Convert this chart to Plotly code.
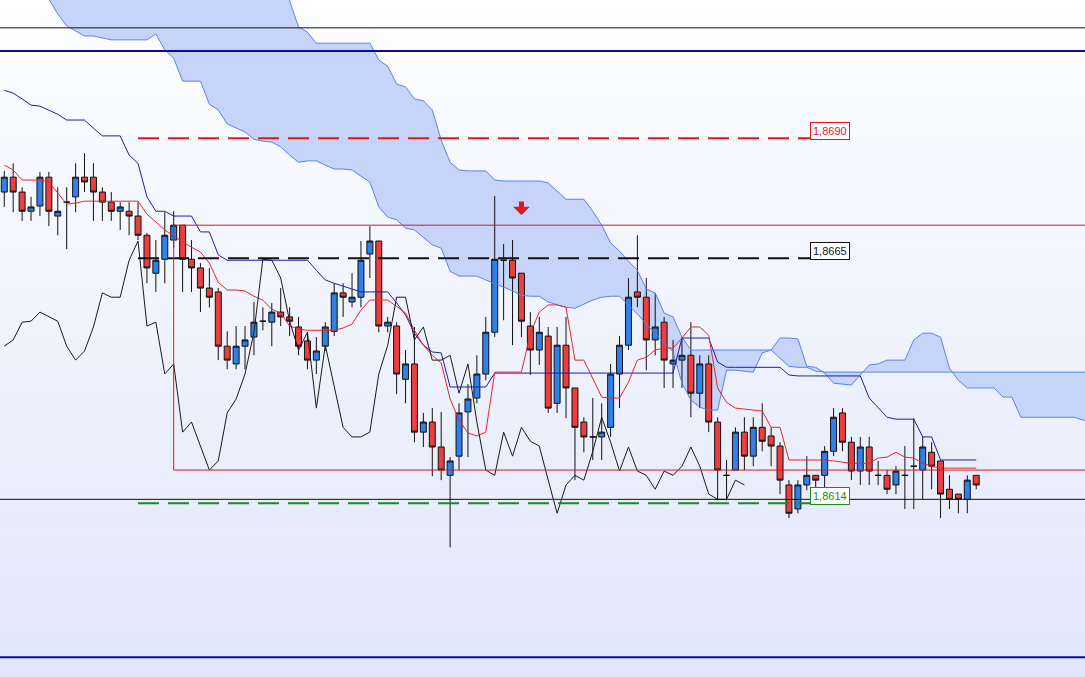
import pandas as pd
import plotly.graph_objects as go

# H1 candles with Ichimoku, prices (one value per bar)
open_ = [1.86788, 1.86819, 1.86788, 1.86748, 1.86759, 1.86819, 1.86738, 1.86767, 1.86778, 1.86819,
         1.86819, 1.86788, 1.86767, 1.86748, 1.86748, 1.86738, 1.86698, 1.86619, 1.86648, 1.86688,
         1.86719, 1.86648, 1.86630, 1.86588, 1.86580, 1.86467, 1.86430, 1.86467, 1.86486, 1.86519,
         1.86517, 1.86538, 1.86528, 1.86507, 1.86478, 1.86438, 1.86467, 1.86498, 1.86578, 1.86559,
         1.86569, 1.86659, 1.86686, 1.86509, 1.86509, 1.86398, 1.86430, 1.86288, 1.86309, 1.86257,
         1.86198, 1.86238, 1.86330, 1.86359, 1.86409, 1.86496, 1.86646, 1.86646, 1.86619, 1.86509,
         1.86459, 1.86488, 1.86348, 1.86469, 1.86380, 1.86309, 1.86278, 1.86278, 1.86298, 1.86409,
         1.86469, 1.86580, 1.86569, 1.86480, 1.86517, 1.86430, 1.86438, 1.86448, 1.86369, 1.86430,
         1.86309, 1.86198, 1.86209, 1.86288, 1.86238, 1.86298, 1.86280, 1.86259, 1.86178, 1.86128,
         1.86178, 1.86198, 1.86198, 1.86248, 1.86328, 1.86267, 1.86207, 1.86257, 1.86198, 1.86198,
         1.86178, 1.86198, 1.86217, 1.86209, 1.86246, 1.86228, 1.86169, 1.86159, 1.86148, 1.86198]
high = [1.86832, 1.86848, 1.86798, 1.86778, 1.86830, 1.86830, 1.86798, 1.86798, 1.86848, 1.86869,
        1.86848, 1.86798, 1.86788, 1.86767, 1.86767, 1.86767, 1.86703, 1.86688, 1.86746, 1.86748,
        1.86719, 1.86688, 1.86640, 1.86630, 1.86588, 1.86498, 1.86509, 1.86509, 1.86559, 1.86548,
        1.86557, 1.86588, 1.86548, 1.86528, 1.86496, 1.86486, 1.86517, 1.86598, 1.86598, 1.86619,
        1.86686, 1.86717, 1.86686, 1.86528, 1.86517, 1.86459, 1.86507, 1.86328, 1.86338, 1.86330,
        1.86236, 1.86348, 1.86388, 1.86448, 1.86528, 1.86780, 1.86680, 1.86688, 1.86619, 1.86538,
        1.86528, 1.86507, 1.86507, 1.86528, 1.86380, 1.86319, 1.86359, 1.86348, 1.86430, 1.86488,
        1.86609, 1.86698, 1.86609, 1.86578, 1.86528, 1.86480, 1.86486, 1.86517, 1.86448, 1.86448,
        1.86319, 1.86230, 1.86298, 1.86319, 1.86319, 1.86348, 1.86298, 1.86267, 1.86188, 1.86188,
        1.86238, 1.86198, 1.86259, 1.86338, 1.86338, 1.86278, 1.86278, 1.86278, 1.86228, 1.86209,
        1.86217, 1.86259, 1.86317, 1.86278, 1.86267, 1.86228, 1.86198, 1.86159, 1.86198, 1.86198]
low = [1.86757, 1.86746, 1.86728, 1.86728, 1.86738, 1.86717, 1.86698, 1.86669, 1.86746, 1.86788,
       1.86728, 1.86728, 1.86728, 1.86709, 1.86698, 1.86688, 1.86598, 1.86580, 1.86598, 1.86671,
       1.86580, 1.86580, 1.86538, 1.86548, 1.86438, 1.86419, 1.86419, 1.86419, 1.86448, 1.86500,
       1.86467, 1.86509, 1.86488, 1.86448, 1.86419, 1.86409, 1.86457, 1.86488, 1.86528, 1.86548,
       1.86548, 1.86609, 1.86496, 1.86496, 1.86367, 1.86348, 1.86267, 1.86257, 1.86196, 1.86188,
       1.86048, 1.86209, 1.86236, 1.86348, 1.86396, 1.86486, 1.86521, 1.86469, 1.86486, 1.86407,
       1.86428, 1.86328, 1.86328, 1.86317, 1.86188, 1.86246, 1.86230, 1.86230, 1.86278, 1.86338,
       1.86459, 1.86548, 1.86417, 1.86448, 1.86380, 1.86380, 1.86380, 1.86319, 1.86338, 1.86288,
       1.86146, 1.86146, 1.86209, 1.86209, 1.86217, 1.86248, 1.86217, 1.86159, 1.86109, 1.86119,
       1.86167, 1.86173, 1.86173, 1.86238, 1.86248, 1.86188, 1.86178, 1.86178, 1.86178, 1.86159,
       1.86159, 1.86128, 1.86128, 1.86148, 1.86169, 1.86109, 1.86128, 1.86119, 1.86119, 1.86169]
close = [1.86819, 1.86788, 1.86748, 1.86757, 1.86819, 1.86748, 1.86748, 1.86767, 1.86819, 1.86809,
         1.86788, 1.86767, 1.86748, 1.86757, 1.86738, 1.86698, 1.86630, 1.86646, 1.86698, 1.86719,
         1.86648, 1.86630, 1.86588, 1.86569, 1.86467, 1.86438, 1.86467, 1.86480, 1.86517, 1.86519,
         1.86538, 1.86528, 1.86519, 1.86467, 1.86438, 1.86457, 1.86507, 1.86578, 1.86569, 1.86569,
         1.86646, 1.86686, 1.86509, 1.86517, 1.86409, 1.86430, 1.86288, 1.86309, 1.86257, 1.86209,
         1.86228, 1.86328, 1.86357, 1.86409, 1.86496, 1.86648, 1.86646, 1.86609, 1.86519, 1.86459,
         1.86496, 1.86338, 1.86469, 1.86380, 1.86298, 1.86278, 1.86278, 1.86288, 1.86409, 1.86469,
         1.86569, 1.86569, 1.86480, 1.86507, 1.86438, 1.86438, 1.86448, 1.86369, 1.86430, 1.86309,
         1.86209, 1.86198, 1.86288, 1.86238, 1.86298, 1.86269, 1.86259, 1.86188, 1.86119, 1.86178,
         1.86198, 1.86188, 1.86248, 1.86319, 1.86267, 1.86207, 1.86257, 1.86207, 1.86198, 1.86169,
         1.86207, 1.86198, 1.86217, 1.86257, 1.86217, 1.86159, 1.86148, 1.86148, 1.86188, 1.86178]

tenkan = [1.86844, 1.86834, 1.86813, 1.86813, 1.86813, 1.86809, 1.86786, 1.86763, 1.86765, 1.86769,
          1.86769, 1.86769, 1.86769, 1.86769, 1.86769, 1.86769, 1.86742, 1.86725, 1.86709, 1.86696,
          1.86684, 1.86673, 1.86663, 1.86640, 1.86600, 1.86584, 1.86584, 1.86582, 1.86571, 1.86563,
          1.86544, 1.86536, 1.86509, 1.86503, 1.86500, 1.86500, 1.86500, 1.86500, 1.86505, 1.86513,
          1.86542, 1.86563, 1.86563, 1.86563, 1.86550, 1.86536, 1.86500, 1.86469, 1.86448, 1.86432,
          1.86357, 1.86313, 1.86286, 1.86280, 1.86288, 1.86413, 1.86413, 1.86413, 1.86413, 1.86494,
          1.86538, 1.86553, 1.86553, 1.86548, 1.86438, 1.86438, 1.86400, 1.86361, 1.86359, 1.86359,
          1.86392, 1.86438, 1.86444, 1.86459, 1.86463, 1.86463, 1.86484, 1.86507, 1.86507, 1.86490,
          1.86380, 1.86350, 1.86338, 1.86336, 1.86334, 1.86332, 1.86298, 1.86298, 1.86230, 1.86230,
          1.86230, 1.86230, 1.86230, 1.86228, 1.86225, 1.86223, 1.86223, 1.86223, 1.86234, 1.86236,
          1.86246, 1.86236, 1.86234, 1.86223, 1.86217, 1.86213, 1.86213, 1.86213, 1.86213, 1.86213]
kijun = ([1.87000, 1.86994, 1.86982, 1.86969, 1.86967, 1.86959, 1.86950, 1.86938, 1.86938, 1.86938,
          1.86921, 1.86905, 1.86905, 1.86905, 1.86865, 1.86848, 1.86778, 1.86748, 1.86748, 1.86738,
          1.86738, 1.86738, 1.86705, 1.86705, 1.86657]
         + [1.86646] * 10
         + [1.86625, 1.86605, 1.86598, 1.86592, 1.86586, 1.86580, 1.86580, 1.86580, 1.86580,
            1.86557, 1.86532, 1.86494, 1.86469, 1.86455, 1.86453]
         + [1.86382] * 5 + [1.86411] * 21 + [1.86484] * 4
         + [1.86434] + [1.86423] * 7 + [1.86407] + [1.86405] * 8
         + [1.86359, 1.86338, 1.86319, 1.86315, 1.86315, 1.86315, 1.86278, 1.86278]
         + [1.86230] * 5)

# senkou spans, already shifted 26 bars ahead (run past the last candle)
span_a = [1.87313, 1.87282, 1.87251, 1.87226, 1.87205, 1.87190, 1.87159, 1.87134, 1.87123, 1.87113,
          1.87113, 1.87109, 1.87105, 1.87105, 1.87105, 1.87105, 1.87105, 1.87117, 1.87084, 1.87067,
          1.87019, 1.87019, 1.87019, 1.86971, 1.86959, 1.86930, 1.86921, 1.86913, 1.86898, 1.86894,
          1.86892, 1.86882, 1.86865, 1.86850, 1.86853, 1.86853, 1.86844, 1.86836, 1.86836, 1.86834,
          1.86821, 1.86809, 1.86757, 1.86736, 1.86730, 1.86713, 1.86709, 1.86694, 1.86678, 1.86671,
          1.86623, 1.86613, 1.86613, 1.86613, 1.86605, 1.86598, 1.86590, 1.86582, 1.86573, 1.86571,
          1.86571, 1.86559, 1.86553, 1.86548, 1.86546, 1.86555, 1.86563, 1.86569, 1.86571, 1.86571,
          1.86553, 1.86534, 1.86513, 1.86494, 1.86473, 1.86455, 1.86390, 1.86355, 1.86340, 1.86334,
          1.86334, 1.86417, 1.86417, 1.86415, 1.86413, 1.86453, 1.86459, 1.86484, 1.86484, 1.86482,
          1.86425, 1.86423, 1.86411, 1.86390, 1.86388, 1.86386, 1.86407, 1.86428, 1.86430, 1.86438,
          1.86438, 1.86438, 1.86480, 1.86494, 1.86494, 1.86486, 1.86421, 1.86396, 1.86380, 1.86380,
          1.86380, 1.86380, 1.86361, 1.86361, 1.86319, 1.86319, 1.86319, 1.86319, 1.86319, 1.86319,
          1.86319, 1.86313, 1.86311]
span_b = ([1.87355] * 31
          + [1.87240, 1.87184, 1.87132, 1.87121] + [1.87098] * 7
          + [1.87063, 1.87050, 1.87013, 1.87007, 1.86982, 1.86978, 1.86959, 1.86896,
             1.86850, 1.86834, 1.86832, 1.86832, 1.86832, 1.86813]
          + [1.86811] * 5
          + [1.86807, 1.86790, 1.86773, 1.86773, 1.86773, 1.86748, 1.86719, 1.86682, 1.86665,
             1.86644, 1.86625, 1.86586, 1.86578, 1.86536, 1.86528, 1.86486]
          + [1.86459] * 10
          + [1.86442, 1.86425, 1.86423, 1.86423, 1.86415]
          + [1.86413] * 31)

# trader's levels
levels = [1.8690, 1.8665, 1.8614]
level_labels = ["1,8690", "1,8665", "1,8614"]
level_colors = ["#e3161b", "#111111", "#1d8a22"]
black_rules = [1.87130, 1.86148]
blue_rules = [1.87082, 1.85819]
range_box = (1.86719, 1.86209)   # top / bottom of the red range
range_box_start = 19
sell_bar, sell_price = 58, 1.86740

bars = pd.DataFrame({"open": open_, "high": high, "low": low, "close": close})
bars["tenkan"] = tenkan
bars["kijun"] = kijun
# chikou span = close plotted 26 bars back
chikou = bars["close"].shift(-26)
cloud = pd.DataFrame({"a": span_a, "b": span_b})

x_range = [-0.48, 121.2]
y_range = [1.85778, 1.87188]

fig = go.Figure()

# cloud fill sits on the base axes, everything else on an overlay so candles cover it
fig.add_trace(go.Scatter(x=cloud.index, y=cloud["b"], mode="lines", line=dict(width=0)))
fig.add_trace(go.Scatter(x=cloud.index, y=cloud["a"], mode="lines", fill="tonexty",
                         fillcolor="rgb(198,212,250)", line=dict(width=0)))

fig.add_trace(go.Candlestick(
    x=bars.index, open=bars["open"], high=bars["high"], low=bars["low"], close=bars["close"],
    increasing=dict(line=dict(color="#111111", width=1), fillcolor="#2f80e8"),
    decreasing=dict(line=dict(color="#111111", width=1), fillcolor="#eb3f3f"),
    whiskerwidth=0, xaxis="x2", yaxis="y2",
))

for col in ["a", "b"]:
    fig.add_trace(go.Scatter(x=cloud.index, y=cloud[col], mode="lines",
                             line=dict(color="#5a82e6", width=1), xaxis="x2", yaxis="y2"))
fig.add_trace(go.Scatter(x=bars.index, y=bars["kijun"], mode="lines",
                         line=dict(color="#1c1cb0", width=1), xaxis="x2", yaxis="y2"))
fig.add_trace(go.Scatter(x=bars.index, y=bars["tenkan"], mode="lines",
                         line=dict(color="#e8262a", width=1), xaxis="x2", yaxis="y2"))
fig.add_trace(go.Scatter(x=bars.index, y=chikou, mode="lines",
                         line=dict(color="#1a1a1a", width=1), xaxis="x2", yaxis="y2"))

# dashed levels with price tags
level_start, level_end = 15, 90.4
for lv, txt, col in zip(levels, level_labels, level_colors):
    fig.add_trace(go.Scatter(x=[level_start, level_end], y=[lv, lv], mode="lines",
                             line=dict(color=col, width=2, dash="21px,9px"),
                             xaxis="x2", yaxis="y2"))
    fig.add_annotation(x=level_end, y=lv, xref="x", yref="y", text=txt, showarrow=False,
                       xanchor="left", yanchor="bottom", yshift=-2,
                       font=dict(family="Liberation Sans, Arial", size=11, color=col),
                       bgcolor="white", bordercolor=col, borderwidth=1, borderpad=2)

# sell arrow: a short thick stem plus a filled head
fig.add_annotation(x=sell_bar, y=sell_price, xref="x", yref="y", text="", showarrow=True,
                   ax=0, ay=-15, arrowhead=0, arrowwidth=5, standoff=6,
                   arrowcolor="#e3161b")
fig.add_annotation(x=sell_bar, y=sell_price, xref="x", yref="y", text="", showarrow=True,
                   ax=0, ay=-10, arrowhead=1, arrowsize=1.4, arrowwidth=2,
                   arrowcolor="#e3161b")

shapes = []
# soft vertical background gradient
n_bands = 60
for k in range(n_bands):
    t = k / (n_bands - 1)
    r = round(254 + (224 - 254) * t)
    g = round(254 + (231 - 254) * t)
    b = round(255 + (251 - 255) * t)
    shapes.append(dict(type="rect", xref="paper", yref="paper", x0=0, x1=1,
                       y0=1 - (k + 1) / n_bands, y1=1 - k / n_bands,
                       fillcolor=f"rgb({r},{g},{b})", line_width=0, layer="below"))
for lv in black_rules:
    shapes.append(dict(type="line", xref="paper", yref="y", x0=0, x1=1, y0=lv, y1=lv,
                       line=dict(color="#111111", width=1)))
for lv in blue_rules:
    shapes.append(dict(type="line", xref="paper", yref="y", x0=0, x1=1, y0=lv, y1=lv,
                       line=dict(color="#0a0aa0", width=2)))
shapes.append(dict(type="rect", xref="x", yref="y", x0=range_box_start, x1=130,
                   y0=range_box[1], y1=range_box[0], line=dict(color="#e3161b", width=1)))

fig.update_layout(
    width=1085, height=677,
    margin=dict(l=0, r=0, t=0, b=0),
    paper_bgcolor="#f3f6fd", plot_bgcolor="#f3f6fd",
    showlegend=False, hovermode=False,
    boxgap=0.33, boxgroupgap=0,
    shapes=shapes,
    xaxis=dict(range=x_range, visible=False),
    yaxis=dict(range=y_range, visible=False),
    xaxis2=dict(range=x_range, visible=False, overlaying="x", rangeslider=dict(visible=False)),
    yaxis2=dict(range=y_range, visible=False, overlaying="y"),
)

fig.write_html("out.html", config={"displayModeBar": False},
               post_script="document.body.style.margin='0';")
